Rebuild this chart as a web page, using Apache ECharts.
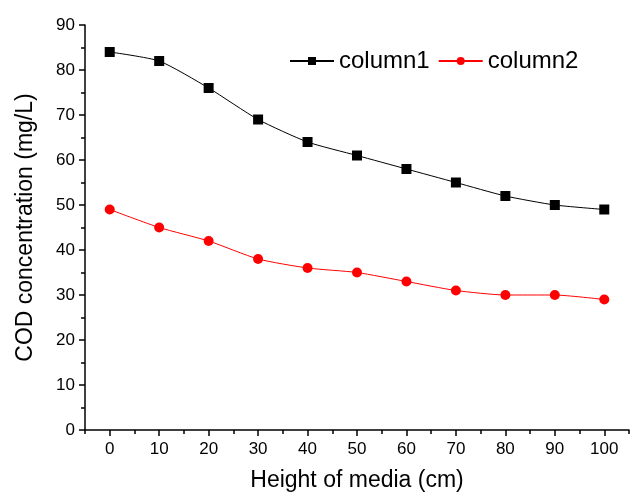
<!DOCTYPE html>
<html><head><meta charset="utf-8">
<script src="https://cdn.jsdelivr.net/npm/echarts@6/dist/echarts.min.js"></script>
<style>html,body{margin:0;padding:0;background:#fff}#c{width:630px;height:496px}</style>
</head><body><div id="c"></div>
<script>
const heights = [0,10,20,30,40,50,60,70,80,90,100];
const column1 = [84,82,76,69,64,61,58,55,52,50,49];
const column2 = [49,45,42,38,36,35,33,31,30,30,29];
const majorX = [0,10,20,30,40,50,60,70,80,90,100];
const minorX = [-5,5,15,25,35,45,55,65,75,85,95,105];

const font = 'Liberation Sans, Arial, sans-serif';
const chart = echarts.init(document.getElementById('c'));
chart.setOption({
  animation:false,
  grid:{left:85,right:1,top:25,bottom:66,containLabel:false,outerBoundsMode:'none'},
  legend:{
    top:44,left:284,itemWidth:44,itemHeight:10,itemGap:8,
    textStyle:{fontFamily:font,fontSize:24,color:'#000'},
    data:[{name:'column1'},{name:'column2'}]
  },
  xAxis:[{
    type:'value',min:-5,max:105,interval:5,
    name:'Height of media (cm)',nameLocation:'middle',nameGap:39,
    nameTextStyle:{fontFamily:font,fontSize:23,color:'#000'},
    axisLine:{onZero:false,lineStyle:{color:'#000',width:1.5}},
    axisTick:{show:true,length:6,lineStyle:{color:'#000',width:1.5},customValues:majorX},
    axisLabel:{fontFamily:font,fontSize:17,color:'#000',margin:11,customValues:majorX},
    splitLine:{show:false}
  },{
    type:'value',min:-5,max:105,interval:5,position:'bottom',
    axisLine:{show:false,onZero:false},
    axisTick:{show:true,length:4,lineStyle:{color:'#000',width:1.5},customValues:minorX},
    axisLabel:{show:false},splitLine:{show:false}
  }],
  yAxis:{
    type:'value',min:0,max:90,interval:10,
    name:'COD concentration (mg/L)',nameLocation:'middle',nameGap:48,
    nameTextStyle:{fontFamily:font,fontSize:23,color:'#000'},
    axisLine:{show:true,onZero:false,lineStyle:{color:'#000',width:1.5}},
    axisTick:{show:true,length:6,lineStyle:{color:'#000',width:1.5}},
    minorTick:{show:true,splitNumber:2,length:4,lineStyle:{color:'#000',width:1.5}},
    axisLabel:{fontFamily:font,fontSize:17,color:'#000',margin:10},
    splitLine:{show:false}
  },
  series:[{
    name:'column1',type:'line',smooth:0.2,
    data:heights.map((h,i)=>[h,column1[i]]),
    symbol:'rect',symbolSize:10,
    lineStyle:{color:'#000',width:1},
    itemStyle:{color:'#000'}
  },{
    name:'column2',type:'line',smooth:0.2,
    data:heights.map((h,i)=>[h,column2[i]]),
    symbol:'circle',symbolSize:10,
    lineStyle:{color:'#ff0000',width:1},
    itemStyle:{color:'#ff0000'}
  }]
});
</script></body></html>
